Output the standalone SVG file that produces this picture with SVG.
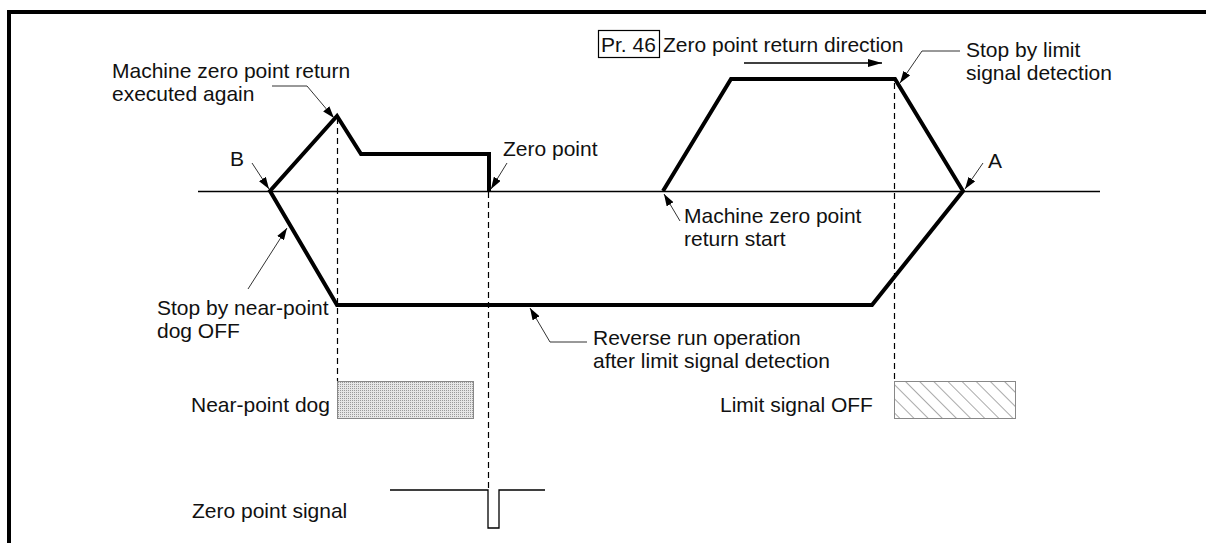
<svg xmlns="http://www.w3.org/2000/svg" width="1206" height="543" viewBox="0 0 1206 543">
<style>
text{font-family:"Liberation Sans",Arial,sans-serif;font-size:21px;fill:#111}
.traj{fill:none;stroke:#000;stroke-width:4;stroke-linejoin:miter}
.axis{stroke:#000;stroke-width:1.3;fill:none}
.dash{stroke:#000;stroke-width:1.2;stroke-dasharray:6 4;fill:none}
.lead{stroke:#333;stroke-width:1;fill:none;marker-end:url(#ah)}
.frame{stroke:#000;stroke-width:4;fill:none}
</style>
<defs>
<marker id="ah" viewBox="0 0 12 8" refX="12" refY="4" markerWidth="12" markerHeight="8" markerUnits="userSpaceOnUse" orient="auto">
<path d="M0,0 L12,4 L0,8 Z" fill="#000"/>
</marker>
<marker id="ah2" viewBox="0 0 14 8" refX="14" refY="4" markerWidth="14" markerHeight="8" markerUnits="userSpaceOnUse" orient="auto">
<path d="M0,0 L14,4 L0,8 Z" fill="#000"/>
</marker>
<pattern id="dots" width="2" height="2" patternUnits="userSpaceOnUse">
<rect width="2" height="2" fill="#e6e6e6"/>
<rect width="1" height="1" fill="#9a9a9a"/>
</pattern>
<pattern id="hatch" width="10" height="10" patternUnits="userSpaceOnUse" patternTransform="rotate(-45)">
<rect width="10" height="10" fill="#fff"/>
<line x1="0" y1="0" x2="0" y2="10" stroke="#555" stroke-width="1"/>
</pattern>
</defs>
<g id="frame">
<path class="frame" d="M9,543 V12 H1206"/>
</g>
<g id="axis">
<line class="axis" x1="198" y1="191.5" x2="1100" y2="191.5"/>
</g>
<g id="connectors">
<path class="traj" d="M663,191 L731,79 L895,79 L963,191 L872,305 L337,305 L270,191 L337,116 L361,154 L489,154 L489,191"/>
<path class="dash" d="M337.5,118 V381"/>
<path class="dash" d="M488.5,192 V490"/>
<path class="dash" d="M894.5,83 V382"/>
<path class="lead" d="M272,86 H307 L334,118"/>
<path class="lead" d="M252,163 L269,189"/>
<path class="lead" d="M507,163 L491,189"/>
<path class="lead" d="M960,51 H922 L900,83"/>
<path class="lead" d="M983,163 L965,189"/>
<path class="lead" d="M680,221 L664,194"/>
<path class="lead" d="M248,289 L287,228"/>
<path class="lead" d="M587,342 H550 L530,308"/>
<line x1="744" y1="63" x2="882" y2="63" stroke="#000" stroke-width="1.3" marker-end="url(#ah2)"/>
</g>
<g id="pr46">
<rect x="598.5" y="30.5" width="61" height="27" fill="none" stroke="#000" stroke-width="1.2"/>
<text x="601" y="52">Pr. 46</text>
<text x="663" y="52">Zero point return direction</text>
</g>
<g id="label-executed-again">
<text x="112" y="78">Machine zero point return</text>
<text x="112" y="101">executed again</text>
</g>
<g id="label-stop-limit">
<text x="966" y="57">Stop by limit</text>
<text x="966" y="80">signal detection</text>
</g>
<g id="label-B"><text x="230" y="166">B</text></g>
<g id="label-A"><text x="988" y="168">A</text></g>
<g id="label-zero-point"><text x="503" y="156">Zero point</text></g>
<g id="label-start">
<text x="684" y="223">Machine zero point</text>
<text x="684" y="246">return start</text>
</g>
<g id="label-stop-dog">
<text x="157" y="315">Stop by near-point</text>
<text x="157" y="338">dog OFF</text>
</g>
<g id="label-reverse">
<text x="593" y="345">Reverse run operation</text>
<text x="593" y="368">after limit signal detection</text>
</g>
<g id="near-point-dog">
<text x="191" y="412">Near-point dog</text>
<rect x="337.5" y="381.5" width="136" height="37" fill="url(#dots)" stroke="#888" stroke-width="1"/>
</g>
<g id="limit-signal">
<text x="720" y="412">Limit signal OFF</text>
<rect x="894.5" y="381.5" width="121" height="37" fill="url(#hatch)" stroke="#888" stroke-width="1"/>
</g>
<g id="zero-point-signal">
<text x="192" y="518">Zero point signal</text>
<path class="axis" d="M390,490 H488 V528 H499 V490 H545"/>
</g>
</svg>
